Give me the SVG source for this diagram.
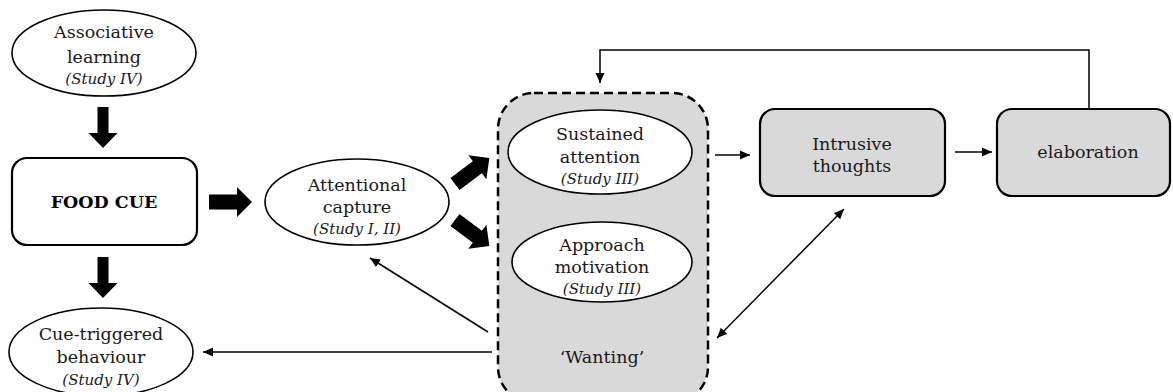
<svg xmlns="http://www.w3.org/2000/svg" width="1173" height="392" viewBox="0 0 1173 392">
<style>
.t{font-family:"DejaVu Serif","Liberation Serif",serif;font-size:17.5px;fill:#1a1a1a;text-anchor:middle}
.s{font-family:"DejaVu Serif","Liberation Serif",serif;font-size:15px;font-style:italic;fill:#1a1a1a;text-anchor:middle}
.b{font-family:"DejaVu Serif","Liberation Serif",serif;font-size:17.5px;font-weight:bold;fill:#000;text-anchor:middle}
.ell{fill:#fff;stroke:#000;stroke-width:1.6}
.box{stroke:#000;stroke-width:2.2}
.thin{fill:none;stroke:#000;stroke-width:1.5}
.fat{fill:#000}
</style>
<defs>
<marker id="ah" viewBox="0 0 10 10" refX="10" refY="5" markerWidth="10" markerHeight="10" markerUnits="userSpaceOnUse" orient="auto-start-reverse">
<path d="M0,0.5 L10,5 L0,9.5 Z" fill="#000"/>
</marker>
<polygon id="fatR" points="0,-7.5 28,-7.5 28,-15 43,0 28,15 28,7.5 0,7.5"/>
<polygon id="fatD" points="-5.5,0 5.5,0 5.5,26 14.5,26 0,41 -14.5,26 -5.5,26"/>
</defs>

<g id="wanting">
<rect x="498" y="93" width="210" height="310" rx="36" ry="36" fill="#d9d9d9" stroke="#000" stroke-width="2.5" stroke-dasharray="9,5"/>
<text class="t" x="602" y="363">‘Wanting’</text>
</g>

<g id="associative-learning">
<ellipse class="ell" cx="104" cy="53" rx="92" ry="43"/>
<text class="t" x="104" y="38">Associative</text>
<text class="t" x="104" y="63">learning</text>
<text class="s" x="104" y="84">(Study IV)</text>
</g>

<g id="food-cue">
<rect class="box" x="12" y="158" width="185" height="87" rx="15" ry="15" fill="#fff"/>
<text class="b" x="104" y="208">FOOD CUE</text>
</g>

<g id="cue-triggered">
<ellipse class="ell" cx="101" cy="352" rx="92" ry="44"/>
<text class="t" x="101" y="340">Cue-triggered</text>
<text class="t" x="101" y="363">behaviour</text>
<text class="s" x="101" y="385">(Study IV)</text>
</g>

<g id="attentional-capture">
<ellipse class="ell" cx="357" cy="202" rx="92" ry="43"/>
<text class="t" x="357" y="191">Attentional</text>
<text class="t" x="357" y="213">capture</text>
<text class="s" x="357" y="234">(Study I, II)</text>
</g>

<g id="sustained-attention">
<ellipse class="ell" cx="600" cy="152" rx="92" ry="42"/>
<text class="t" x="600" y="140">Sustained</text>
<text class="t" x="600" y="163">attention</text>
<text class="s" x="600" y="184">(Study III)</text>
</g>

<g id="approach-motivation">
<ellipse class="ell" cx="602" cy="262" rx="90" ry="40"/>
<text class="t" x="602" y="251">Approach</text>
<text class="t" x="602" y="273">motivation</text>
<text class="s" x="602" y="294">(Study III)</text>
</g>

<g id="intrusive-thoughts">
<rect class="box" x="760" y="109" width="185" height="87" rx="15" ry="15" fill="#d9d9d9"/>
<text class="t" x="852" y="150">Intrusive</text>
<text class="t" x="852" y="172">thoughts</text>
</g>

<g id="elaboration">
<rect class="box" x="997" y="109" width="173" height="87" rx="15" ry="15" fill="#d9d9d9"/>
<text class="t" x="1088" y="158">elaboration</text>
</g>

<g id="connectors">
<use href="#fatD" class="fat" transform="translate(103,107)"/>
<use href="#fatD" class="fat" transform="translate(103,257)"/>
<use href="#fatR" class="fat" transform="translate(209,202)"/>
<use href="#fatR" class="fat" transform="translate(455,184) rotate(-37)"/>
<use href="#fatR" class="fat" transform="translate(455,220) rotate(37)"/>
<line class="thin" x1="715" y1="155" x2="750" y2="155" marker-end="url(#ah)"/>
<line class="thin" x1="955" y1="152" x2="992" y2="152" marker-end="url(#ah)"/>
<path class="thin" d="M1089,109 V50 H600 V83" marker-end="url(#ah)"/>
<line class="thin" x1="488" y1="332" x2="370" y2="258" marker-end="url(#ah)"/>
<line class="thin" x1="492" y1="352" x2="203" y2="352" marker-end="url(#ah)"/>
<line class="thin" x1="717" y1="338" x2="844" y2="209" marker-start="url(#ah)" marker-end="url(#ah)"/>
</g>
</svg>
